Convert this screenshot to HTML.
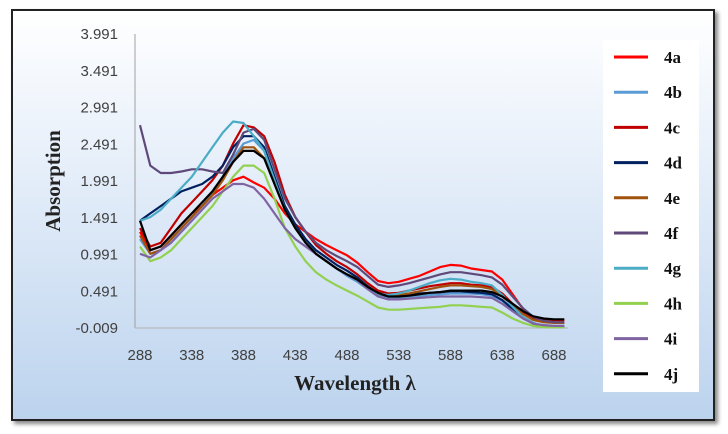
<!DOCTYPE html>
<html><head><meta charset="utf-8"><style>
html,body{margin:0;padding:0;width:728px;height:434px;overflow:hidden;background:#fff}
#frame{position:absolute;left:11px;top:9px;width:700px;height:408px;border:2px solid #222;box-shadow:3px 3px 4px #888;background:linear-gradient(#ffffff 0%,#e8f0fa 35%,#bcd3ee 100%)}
svg{position:absolute;left:0;top:0}
</style></head><body>
<div id="frame"></div>
<svg id="chart" width="728" height="434"></svg>
<script>
const wl=[288,298,308,318,328,338,348,358,368,378,388,398,408,418,428,438,448,458,468,478,488,498,508,518,528,538,548,558,568,578,588,598,608,618,628,638,648,658,668,678,688,698];
const s4a=[1.3,1.05,1.1,1.25,1.4,1.55,1.65,1.8,1.9,2.0,2.05,1.97,1.9,1.75,1.55,1.4,1.3,1.2,1.12,1.05,0.98,0.88,0.75,0.63,0.6,0.62,0.66,0.7,0.76,0.82,0.85,0.84,0.8,0.78,0.76,0.65,0.45,0.25,0.12,0.08,0.07,0.07];
const s4b=[1.2,1.0,1.05,1.2,1.35,1.5,1.65,1.85,2.05,2.3,2.5,2.55,2.4,2.0,1.6,1.35,1.15,1.0,0.9,0.8,0.7,0.62,0.52,0.44,0.4,0.4,0.41,0.42,0.44,0.45,0.46,0.46,0.46,0.45,0.43,0.36,0.25,0.14,0.06,0.02,0.0,0.0];
const s4c=[1.35,1.1,1.15,1.35,1.55,1.7,1.85,2.0,2.2,2.5,2.75,2.72,2.6,2.25,1.8,1.5,1.3,1.12,1.0,0.9,0.82,0.72,0.6,0.5,0.46,0.47,0.5,0.53,0.56,0.58,0.6,0.6,0.58,0.57,0.55,0.46,0.32,0.2,0.12,0.1,0.1,0.1];
const s4d=[1.45,1.55,1.65,1.75,1.85,1.9,1.95,2.05,2.2,2.45,2.6,2.6,2.45,2.05,1.65,1.4,1.2,1.05,0.95,0.85,0.77,0.68,0.56,0.46,0.42,0.43,0.44,0.46,0.47,0.48,0.49,0.49,0.48,0.47,0.45,0.37,0.25,0.13,0.05,0.02,0.01,0.01];
const s4e=[1.25,1.0,1.05,1.2,1.35,1.5,1.65,1.8,2.0,2.25,2.45,2.45,2.3,1.95,1.6,1.35,1.15,1.0,0.9,0.8,0.72,0.65,0.55,0.46,0.43,0.44,0.46,0.49,0.52,0.55,0.57,0.57,0.56,0.55,0.52,0.42,0.3,0.18,0.1,0.07,0.06,0.06];
const s4f=[2.75,2.2,2.1,2.1,2.12,2.15,2.15,2.12,2.1,2.35,2.65,2.7,2.55,2.15,1.75,1.5,1.3,1.15,1.05,0.97,0.9,0.82,0.7,0.58,0.55,0.57,0.6,0.64,0.68,0.72,0.75,0.75,0.73,0.71,0.68,0.58,0.42,0.26,0.14,0.09,0.07,0.07];
const s4g=[1.45,1.5,1.6,1.75,1.9,2.05,2.25,2.45,2.65,2.8,2.78,2.6,2.4,2.0,1.6,1.35,1.15,1.0,0.9,0.8,0.72,0.64,0.54,0.46,0.44,0.46,0.5,0.55,0.6,0.64,0.66,0.65,0.62,0.6,0.57,0.44,0.28,0.14,0.05,0.02,0.01,0.01];
const s4h=[1.1,0.9,0.95,1.05,1.2,1.35,1.5,1.65,1.85,2.05,2.2,2.2,2.1,1.75,1.35,1.1,0.9,0.75,0.65,0.57,0.5,0.43,0.35,0.27,0.24,0.24,0.25,0.26,0.27,0.28,0.3,0.3,0.29,0.28,0.27,0.2,0.12,0.06,0.02,0.0,0.0,0.0];
const s4i=[1.0,0.95,1.05,1.15,1.3,1.45,1.6,1.75,1.85,1.95,1.95,1.9,1.75,1.55,1.35,1.2,1.1,1.0,0.9,0.8,0.72,0.64,0.52,0.42,0.38,0.38,0.39,0.4,0.41,0.42,0.42,0.42,0.42,0.41,0.4,0.32,0.22,0.12,0.05,0.03,0.02,0.02];
const s4j=[1.45,1.05,1.1,1.25,1.4,1.55,1.7,1.85,2.05,2.25,2.4,2.4,2.3,1.95,1.6,1.35,1.15,1.0,0.9,0.8,0.72,0.65,0.55,0.47,0.42,0.42,0.43,0.45,0.47,0.48,0.5,0.5,0.5,0.5,0.48,0.42,0.32,0.22,0.15,0.12,0.11,0.11];
const names=['4a','4b','4c','4d','4e','4f','4g','4h','4i','4j'];
const series=[s4a,s4b,s4c,s4d,s4e,s4f,s4g,s4h,s4i,s4j];
const colors=['#ff0000','#5b9bd5','#c00000','#002060','#a0520f','#5f497a','#4bacc6','#92d050','#8064a2','#000000'];
const yTicks=[-0.009,0.491,0.991,1.491,1.991,2.491,2.991,3.491,3.991];
const xTicks=[288,338,388,438,488,538,588,638,688];
const NS='http://www.w3.org/2000/svg';
const svg=document.getElementById('chart');
const x=v=>140+(v-288)*1.035;
const y=v=>328-(v+0.009)*73.5;
function mk(t,a){const e=document.createElementNS(NS,t);for(const k in a)e.setAttribute(k,a[k]);svg.appendChild(e);return e;}
let e=mk('line',{x1:135,y1:34,x2:135,y2:328,stroke:'#a0a0a0','stroke-width':1});


e=mk('line',{x1:135,y1:328,x2:568,y2:328,stroke:'#b0b0b0','stroke-width':1});


yTicks.forEach(t=>{const el=mk('text',{x:118,y:y(t)+5,'text-anchor':'end','font-family':'Liberation Sans, sans-serif','font-size':15,fill:'#404040'});el.textContent=t.toFixed(3);

});
xTicks.forEach(t=>{const el=mk('text',{x:x(t),y:360,'text-anchor':'middle','font-family':'Liberation Sans, sans-serif','font-size':15,fill:'#404040'});el.textContent=t;

});
series.forEach((s,i)=>{const d=s.map((v,j)=>(j?'L':'M')+x(wl[j]).toFixed(1)+','+y(v).toFixed(1)).join('');
const p=mk('path',{d:d,fill:'none',stroke:colors[i],'stroke-width':2.2,'stroke-linejoin':'round'});

});
let t=mk('text',{x:355,y:390,'text-anchor':'middle','font-family':'Liberation Serif, serif','font-size':21,'font-weight':'bold',fill:'#222'});t.textContent='Wavelength λ';


t=mk('text',{x:0,y:0,transform:'translate(60,181) rotate(-90)','text-anchor':'middle','font-family':'Liberation Serif, serif','font-size':21,'font-weight':'bold',fill:'#222'});t.textContent='Absorption';


const lg=mk('rect',{x:603,y:40,width:96,height:352,fill:'#fff'});


names.forEach((n,i)=>{const cy=57+i*35.2;
const l=mk('line',{x1:614,y1:cy,x2:648,y2:cy,stroke:colors[i],'stroke-width':3});


const tx=mk('text',{x:664,y:cy+6,'font-family':'Liberation Serif, serif','font-size':17,'font-weight':'bold',fill:'#111'});tx.textContent=n;

});
</script>
</body></html>
